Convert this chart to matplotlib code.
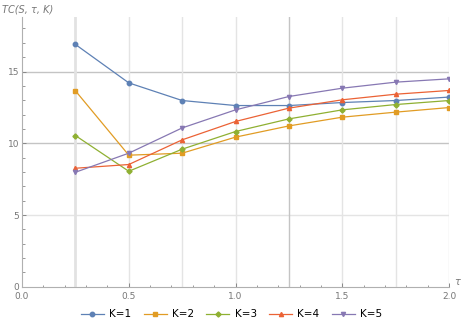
import matplotlib.pyplot as plt
from matplotlib.ticker import MultipleLocator

tau = [0.25, 0.5, 0.75, 1.0, 1.25, 1.5, 1.75, 2.0]
tc_k1 = [16.89, 14.21, 12.98, 12.63, 12.63, 12.84, 12.98, 13.22]
tc_k2 = [13.66, 9.17, 9.31, 10.43, 11.21, 11.82, 12.17, 12.49]
tc_k3 = [10.54, 8.05, 9.59, 10.82, 11.70, 12.33, 12.70, 12.98]
tc_k4 = [8.26, 8.52, 10.24, 11.52, 12.45, 13.03, 13.42, 13.68]
tc_k5 = [7.98, 9.31, 11.07, 12.33, 13.26, 13.84, 14.26, 14.49]
labels = ["K=1", "K=2", "K=3", "K=4", "K=5"]

colors = ["#5E81B5", "#E19C24", "#8FB032", "#EB6235", "#8778B3"]
markers = ["o", "s", "D", "^", "v"]
msizes = [3.2, 2.6, 2.6, 3.0, 3.0]

fig = plt.figure(figsize=(4.63, 3.27), dpi=100)
ax = fig.add_axes([0.0475, 0.123, 0.9225, 0.825])

# grid lines (Mathematica style)
for y, c in [(5, "#e4e4e4"), (10, "#c4c4c4"), (15, "#c4c4c4")]:
    ax.axhline(y, color=c, lw=1.0, zorder=0)
for x in tau:
    if x == 0.25:
        ax.axvline(x, color="#e2e2e2", lw=2.0, zorder=0)
    elif x == 1.25:
        ax.axvline(x, color="#c4c4c4", lw=1.0, zorder=0)
    else:
        ax.axvline(x, color="#e4e4e4", lw=1.0, zorder=0)

series = [tc_k1, tc_k2, tc_k3, tc_k4, tc_k5]
for vals, lab, c, m, ms in zip(series, labels, colors, markers, msizes):
    ax.plot(tau, vals, color=c, marker=m, ms=ms, lw=0.9, label=lab)

ax.set_xlim(0, 2.0)
ax.set_ylim(0, 18.8)
ax.xaxis.set_major_locator(MultipleLocator(0.5))
ax.xaxis.set_minor_locator(MultipleLocator(0.1))
ax.yaxis.set_major_locator(MultipleLocator(5))
ax.yaxis.set_minor_locator(MultipleLocator(1))
ax.xaxis.set_major_formatter(plt.FuncFormatter(lambda v, p: f"{v:.1f}"))
ax.yaxis.set_major_formatter(plt.FuncFormatter(lambda v, p: f"{v:.0f}"))

for s in ["top", "right"]:
    ax.spines[s].set_visible(False)
for s in ["left", "bottom"]:
    ax.spines[s].set_color("#b0b0b0")
    ax.spines[s].set_linewidth(0.8)

ax.tick_params(which="both", direction="in", colors="#888888", labelsize=6.5,
               labelcolor="#777777", pad=2)
ax.tick_params(axis="x", which="major", pad=3.5)
ax.tick_params(which="major", length=3, width=0.7)
ax.tick_params(which="minor", length=1.8, width=0.6)

fig.text(0.004, 0.985, "TC(S, τ, K)", ha="left", va="top", fontsize=7,
         style="italic", color="#777777")
ax.text(1.012, 0.0, "τ", transform=ax.transAxes, ha="left",
        va="bottom", fontsize=7, style="italic", color="#777777")

fig.legend(loc="lower center", ncol=5, frameon=False, fontsize=7.5,
           bbox_to_anchor=(0.5, -0.005), handlelength=2.2, columnspacing=1.2,
           handletextpad=0.5)

fig.savefig("out.png", dpi=100)
